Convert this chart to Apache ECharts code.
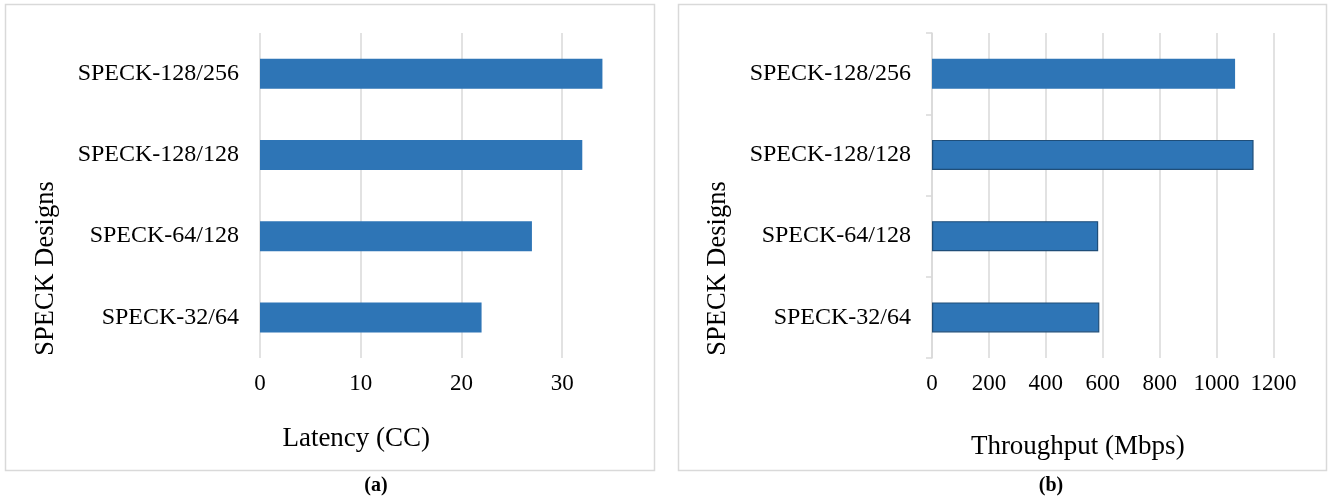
<!DOCTYPE html>
<html>
<head>
<meta charset="utf-8">
<script src="https://cdn.jsdelivr.net/npm/echarts@6/dist/echarts.min.js"></script>
<style>
html,body{margin:0;padding:0;background:#fff;}
#main{width:1328px;height:497px;}
</style>
</head>
<body>
<div id="main"></div>
<script>
// designs, bottom to top
var designs = ['SPECK-32/64', 'SPECK-64/128', 'SPECK-128/128', 'SPECK-128/256'];
var latency = [22, 27, 32, 34];            // CC
var throughput = [588, 584, 1130, 1065];   // Mbps
var latencyTicks = [0, 10, 20, 30];
var throughputTicks = [0, 200, 400, 600, 800, 1000, 1200];

var font = '"Liberation Serif", "Times New Roman", serif';
var grey = '#D9D9D9';
var blue = '#2E75B6';

var chart = echarts.init(document.getElementById('main'));

chart.setOption({
	backgroundColor: '#fff',
	animation: false,
	textStyle: {fontFamily: font, color: '#000'},
	graphic: [
		{type: 'rect', shape: {x: 5.5, y: 4.5, width: 649, height: 466}, style: {fill: 'none', stroke: grey, lineWidth: 1.5}},
		{type: 'rect', shape: {x: 678.5, y: 4.5, width: 648, height: 466}, style: {fill: 'none', stroke: grey, lineWidth: 1.5}},
		{type: 'text', x: 376, y: 486, style: {text: '(a)', font: 'bold 20px ' + font, fill: '#000', align: 'center', verticalAlign: 'middle'}},
		{type: 'text', x: 1051, y: 486, style: {text: '(b)', font: 'bold 20px ' + font, fill: '#000', align: 'center', verticalAlign: 'middle'}}
	],
	grid: [
		{left: 260, top: 33, width: 352.5, height: 325},
		{left: 932, top: 33, width: 341.5, height: 325}
	],
	xAxis: [
		{
			type: 'value', gridIndex: 0,
			min: 0, max: 35, interval: 10,
			name: 'Latency (CC)', nameLocation: 'middle', nameGap: 67,
			nameTextStyle: {fontSize: 27, fontFamily: font, color: '#000', padding: [0, 160, 0, 0]},
			axisLine: {show: false},
			axisTick: {show: false},
			axisLabel: {fontSize: 23, fontFamily: font, color: '#000', margin: 14, showMaxLabel: false,
				formatter: function (v) { return latencyTicks.indexOf(v) >= 0 ? String(v) : ''; }},
			splitLine: {show: true, showMaxLine: false, lineStyle: {color: grey, width: 1.5}}
		},
		{
			type: 'value', gridIndex: 1,
			min: 0, max: 1200, interval: 200,
			name: 'Throughput (Mbps)', nameLocation: 'middle', nameGap: 75,
			nameTextStyle: {fontSize: 27, fontFamily: font, color: '#000', padding: [0, 50, 0, 0]},
			axisLine: {show: false},
			axisTick: {show: false},
			axisLabel: {fontSize: 23, fontFamily: font, color: '#000', margin: 14,
				formatter: function (v) { return throughputTicks.indexOf(v) >= 0 ? String(v) : ''; }},
			splitLine: {show: true, lineStyle: {color: grey, width: 1.5}}
		}
	],
	yAxis: [
		{
			type: 'category', gridIndex: 0, data: designs,
			name: 'SPECK Designs', nameLocation: 'middle', nameGap: 200, nameRotate: 90,
			nameTextStyle: {fontSize: 26.5, fontFamily: font, color: '#000', padding: [0, 146, 0, 0]},
			axisLine: {show: false},
			axisTick: {show: false},
			axisLabel: {fontSize: 24, fontFamily: font, color: '#000', margin: 21}
		},
		{
			type: 'category', gridIndex: 1, data: designs,
			name: 'SPECK Designs', nameLocation: 'middle', nameGap: 200, nameRotate: 90,
			nameTextStyle: {fontSize: 26.5, fontFamily: font, color: '#000', padding: [0, 146, 0, 0]},
			axisLine: {show: true, lineStyle: {color: grey, width: 1.5}},
			axisTick: {show: true, length: 6, lineStyle: {color: grey, width: 1.5}},
			axisLabel: {fontSize: 24, fontFamily: font, color: '#000', margin: 21}
		}
	],
	series: [
		{
			type: 'bar', xAxisIndex: 0, yAxisIndex: 0,
			data: latency, barWidth: 30,
			itemStyle: {color: blue}
		},
		{
			type: 'bar', xAxisIndex: 1, yAxisIndex: 1,
			data: throughput.map(function (v, i) {
				// top bar has no dark outline in the source
				return i === 3 ? v : {value: v, itemStyle: {borderColor: '#1F4E79', borderWidth: 1.2}};
			}),
			barWidth: 30,
			itemStyle: {color: blue}
		}
	]
});
</script>
</body>
</html>
